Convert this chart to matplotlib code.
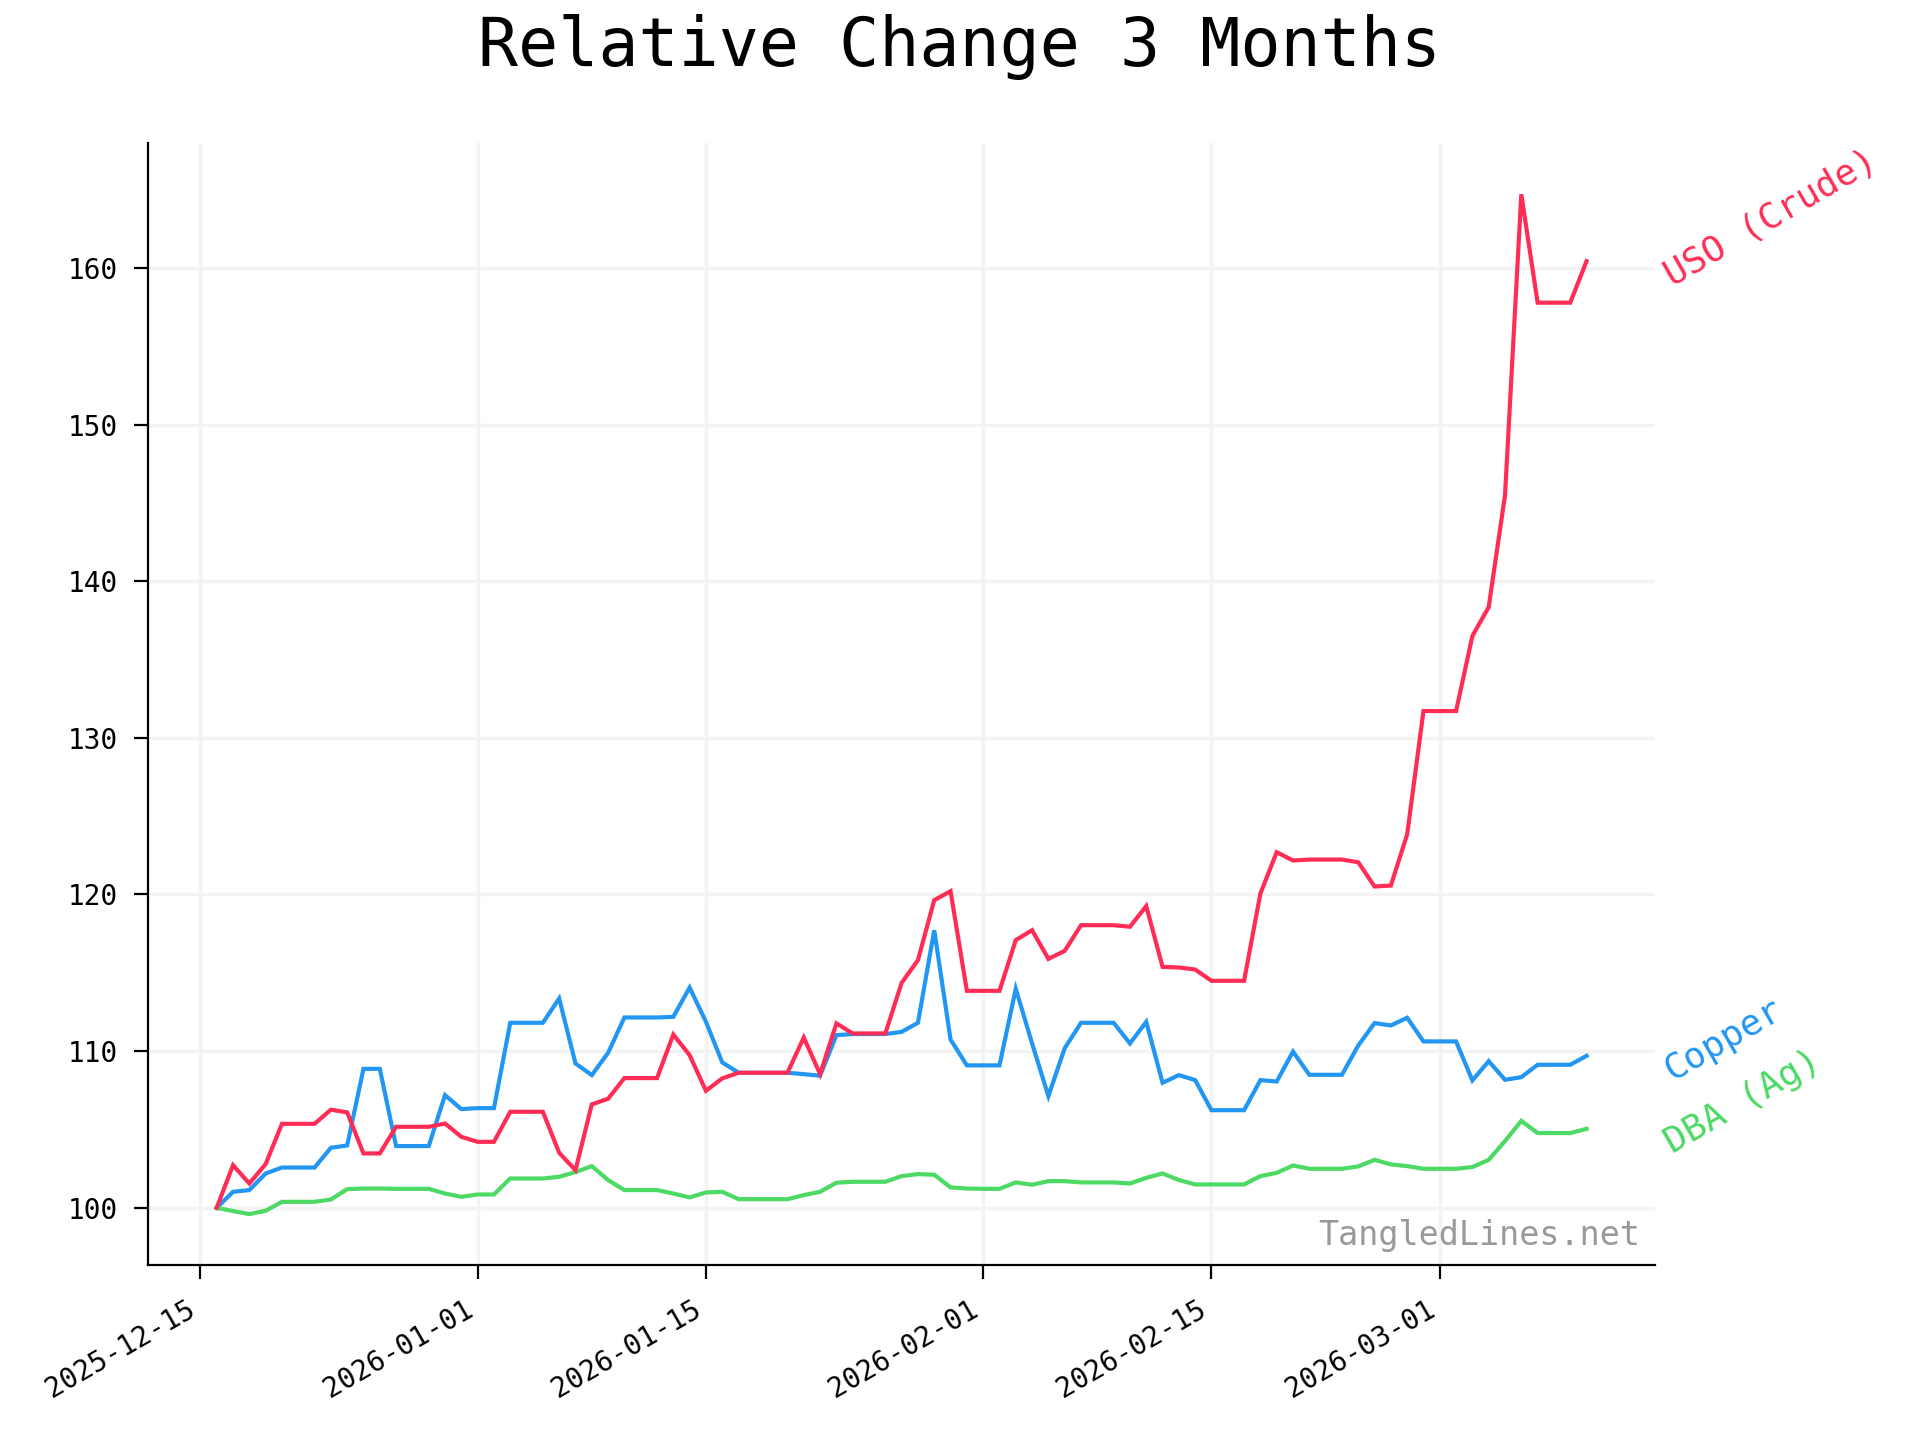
import matplotlib
matplotlib.use("Agg")
import matplotlib.pyplot as plt
import matplotlib.dates as mdates
import pandas as pd

plt.rcParams['font.family'] = ['DejaVu Sans Mono']

start_date = "2025-12-16"
n_days = 85

uso = [100, 102.72, 101.55, 102.79, 105.36, 105.36, 105.36, 106.26, 106.09, 103.47,
       103.47, 105.17, 105.17, 105.17, 105.38, 104.53, 104.21, 104.21, 106.13, 106.13,
       106.13, 103.51, 102.40, 106.60, 106.96, 108.28, 108.28, 108.28, 111.06, 109.74,
       107.47, 108.26, 108.62, 108.62, 108.62, 108.62, 110.87, 108.53, 111.77, 111.13,
       111.13, 111.13, 114.36, 115.81, 119.64, 120.21, 113.85, 113.85, 113.85, 117.09,
       117.72, 115.89, 116.40, 118.04, 118.04, 118.04, 117.94, 119.26, 115.38, 115.34,
       115.21, 114.49, 114.49, 114.49, 120.06, 122.70, 122.17, 122.23, 122.23, 122.23,
       122.06, 120.51, 120.57, 123.84, 131.71, 131.71, 131.71, 136.50, 138.35, 145.48,
       164.70, 157.78, 157.78, 157.78, 160.43]

copper = [100, 101.02, 101.13, 102.19, 102.57, 102.57, 102.57, 103.83, 103.98, 108.87,
          108.87, 103.94, 103.94, 103.94, 107.19, 106.30, 106.36, 106.36, 111.81, 111.81,
          111.81, 113.36, 109.21, 108.47, 109.89, 112.15, 112.15, 112.15, 112.19, 114.06,
          111.87, 109.28, 108.62, 108.62, 108.62, 108.62, 108.53, 108.43, 111.02, 111.09,
          111.09, 111.09, 111.23, 111.81, 117.72, 110.74, 109.09, 109.09, 109.09, 113.98,
          110.49, 107.13, 110.19, 111.81, 111.81, 111.81, 110.49, 111.87, 107.98, 108.47,
          108.15, 106.23, 106.23, 106.23, 108.15, 108.06, 109.97, 108.49, 108.49, 108.49,
          110.36, 111.79, 111.64, 112.13, 110.62, 110.62, 110.62, 108.13, 109.36, 108.17,
          108.34, 109.13, 109.13, 109.13, 109.70]

dba = [100, 99.79, 99.60, 99.81, 100.38, 100.38, 100.38, 100.53, 101.19, 101.23,
       101.23, 101.21, 101.21, 101.21, 100.91, 100.70, 100.85, 100.85, 101.87, 101.87,
       101.87, 101.98, 102.28, 102.66, 101.77, 101.13, 101.13, 101.13, 100.91, 100.66,
       100.98, 101.02, 100.55, 100.55, 100.55, 100.55, 100.81, 101.02, 101.60, 101.66,
       101.66, 101.66, 102.02, 102.15, 102.11, 101.30, 101.23, 101.21, 101.21, 101.62,
       101.47, 101.70, 101.70, 101.62, 101.62, 101.62, 101.55, 101.91, 102.19, 101.77,
       101.49, 101.49, 101.49, 101.49, 102.02, 102.23, 102.70, 102.49, 102.49, 102.49,
       102.64, 103.06, 102.77, 102.66, 102.49, 102.49, 102.49, 102.60, 103.06, 104.26,
       105.55, 104.77, 104.77, 104.77, 105.04]

labels = ["Copper", "DBA (Ag)", "USO (Crude)"]
colors = ["#2196F3", "#4CD964", "#FF2D55"]

dates = pd.date_range(start_date, periods=n_days)

fig = plt.figure(figsize=(9.6, 7.2), dpi=200)
ax = fig.add_axes([0.0772, 0.1215, 0.7848, 0.779])

for series, lab, col in zip([copper, dba, uso], labels, colors):
    ax.plot(dates, series, color=col, lw=1.5, solid_joinstyle='miter')
    ax.annotate(lab, xy=(dates[-1], series[-1]), xytext=(29, -6),
                textcoords='offset points', color=col, fontsize=13,
                rotation=30, rotation_mode='anchor', ha='left', va='center',
                annotation_clip=False)

ax.grid(True, color='#f3f3f3', lw=1.2)
ax.set_axisbelow(True)
for s in ['top', 'right']:
    ax.spines[s].set_visible(False)

ax.set_yticks([100, 110, 120, 130, 140, 150, 160])
ax.xaxis.set_major_locator(mdates.DayLocator(bymonthday=[1, 15]))
ax.xaxis.set_major_formatter(mdates.DateFormatter('%Y-%m-%d'))
ax.tick_params(axis='both', labelsize=10, length=5, pad=6)
for lbl in ax.get_xticklabels():
    lbl.set_rotation(30)
    lbl.set_ha('right')

ax.text(0.99, 0.012, "TangledLines.net", transform=ax.transAxes, ha='right',
        va='bottom', fontsize=12, color='#999999')

fig.suptitle("Relative Change 3 Months", fontsize=24, y=0.99)

fig.savefig("out.png", dpi=200)
